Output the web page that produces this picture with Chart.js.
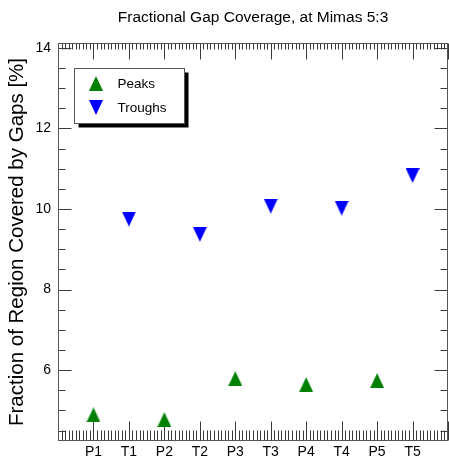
<!DOCTYPE html>
<html><head><meta charset="utf-8">
<script src="https://cdn.jsdelivr.net/npm/chart.js@4"></script>
<style>html,body{margin:0;padding:0;background:#fff}#wrap{width:449px;height:464px}</style>
</head><body><div id="wrap"><canvas id="c" width="449" height="464"></canvas></div>
<script>
// ---- data ----
const categories = ['P1','T1','P2','T2','P3','T3','P4','T4','P5','T5'];
const peakLabels = ['P1','P2','P3','P4','P5'];
const peakValues = [4.89, 4.77, 5.79, 5.64, 5.74];
const troughLabels = ['T1','T2','T3','T4','T5'];
const troughValues = [9.75, 9.37, 10.07, 10.02, 10.83];
const yTickValues = [6, 8, 10, 12, 14];
const titleText = 'Fractional Gap Coverage, at Mimas 5:3';
const yTitleText = 'Fraction of Region Covered by Gaps [%]';

const FONT = '"Liberation Sans", Arial, Helvetica, sans-serif';

function triangleImage(color, up) {
  const c = document.createElement('canvas');
  c.width = 14; c.height = 15;
  const g = c.getContext('2d');
  g.fillStyle = color;
  g.beginPath();
  if (up) { g.moveTo(7, 0); g.lineTo(14, 15); g.lineTo(0, 15); }
  else { g.moveTo(0, 0); g.lineTo(14, 0); g.lineTo(7, 15); }
  g.closePath(); g.fill();
  return c;
}
const upTri = triangleImage('#008000', true);
const downTri = triangleImage('#0000ff', false);

const toPoints = (labels, values) => labels.map((l, i) => ({x: categories.indexOf(l) + 1, y: values[i]}));

const framePlugin = {
  id: 'frame',
  beforeDatasetsDraw(chart) {
    const {ctx, chartArea: ca, scales: {x, y}} = chart;
    const L = Math.round(ca.left) + 0.5, R = Math.round(ca.right) - 0.5;
    const T = Math.round(ca.top) + 0.5, B = Math.round(ca.bottom) - 0.5;
    ctx.save();
    ctx.lineWidth = 1;
    ctx.strokeStyle = '#3a3a3a';
    ctx.beginPath();
    for (let k = Math.ceil(x.min * 10); k <= Math.floor(x.max * 10); k++) {
      const px = Math.round(x.getPixelForValue(k / 10)) + 0.5;
      const major = k % 10 === 0;
      const lb = major ? 19 : 10, lt = major ? 16 : 6;
      ctx.moveTo(px, B); ctx.lineTo(px, B - lb);
      ctx.moveTo(px, T); ctx.lineTo(px, T + lt);
    }
    for (let k = Math.ceil(y.min * 2); k <= Math.floor(y.max * 2); k++) {
      const v = k / 2;
      const py = Math.round(y.getPixelForValue(v)) + 0.5;
      const major = k % 4 === 0;
      const l = major ? 13 : 7;
      ctx.moveTo(L, py); ctx.lineTo(L + l, py);
      ctx.moveTo(R, py); ctx.lineTo(R - l, py);
    }
    ctx.stroke();
    ctx.strokeStyle = '#555';
    ctx.strokeRect(L, T, R - L, B - T);
    ctx.restore();
  }
};

const legendPlugin = {
  id: 'boxLegend',
  afterDatasetsDraw(chart) {
    const {ctx, chartArea: ca} = chart;
    const bx = Math.round(ca.left) + 16.5, by = Math.round(ca.top) + 25.5, bw = 110, bh = 55;
    ctx.save();
    ctx.fillStyle = '#000';
    ctx.fillRect(bx + 4, by + 4, bw, bh);
    ctx.fillStyle = '#fff';
    ctx.fillRect(bx, by, bw, bh);
    ctx.strokeStyle = '#555';
    ctx.lineWidth = 1;
    ctx.strokeRect(bx, by, bw, bh);
    chart.data.datasets.forEach((ds, i) => {
      const cy = by + 15 + i * 24;
      const img = ds.pointStyle;
      ctx.drawImage(img, Math.round(bx + 21 - img.width / 2), Math.round(cy - img.height / 2));
      ctx.fillStyle = '#000';
      ctx.font = '13.5px ' + FONT;
      ctx.textBaseline = 'middle';
      ctx.textAlign = 'left';
      ctx.fillText(ds.label, bx + 43, cy + 1);
    });
    ctx.restore();
  }
};

new Chart(document.getElementById('c'), {
  type: 'scatter',
  data: {
    datasets: [
      {label: 'Peaks', data: toPoints(peakLabels, peakValues), pointStyle: upTri, backgroundColor: '#008000', borderColor: '#008000'},
      {label: 'Troughs', data: toPoints(troughLabels, troughValues), pointStyle: downTri, backgroundColor: '#0000ff', borderColor: '#0000ff'}
    ]
  },
  options: {
    responsive: false,
    animation: false,
    devicePixelRatio: 1,
    layout: {autoPadding: false, padding: {left: 0, right: 1, top: 0, bottom: 0}},
    plugins: {
      legend: {display: false},
      tooltip: {enabled: false},
      title: {
        display: true, text: titleText, fullSize: false,
        color: '#000', font: {family: FONT, size: 15.5, weight: 'normal'},
        padding: {top: 8, bottom: 16.4}
      }
    },
    scales: {
      x: {
        type: 'linear', min: 0, max: 11,
        grid: {display: false, drawTicks: false},
        border: {display: false},
        afterBuildTicks: s => { s.ticks = categories.map((c, i) => ({value: i + 1})); },
        afterFit: s => { s.height = 23; s.paddingLeft = 0; s.paddingRight = 0; },
        ticks: {
          color: '#000', font: {family: FONT, size: 14}, padding: 3, maxRotation: 0, autoSkip: false,
          callback: v => categories[v - 1] || ''
        }
      },
      y: {
        type: 'linear', min: 4.24, max: 14.12,
        grid: {display: false, drawTicks: false},
        border: {display: false},
        afterBuildTicks: s => { s.ticks = yTickValues.map(v => ({value: v})); },
        afterFit: s => { s.width = 58; s.paddingTop = 0; s.paddingBottom = 0; },
        ticks: {color: '#000', font: {family: FONT, size: 14}, padding: 7},
        title: {display: true, text: yTitleText, color: '#000', font: {family: FONT, size: 20.5}, padding: {top: 5}}
      }
    }
  },
  plugins: [framePlugin, legendPlugin]
});
</script>
</body></html>
